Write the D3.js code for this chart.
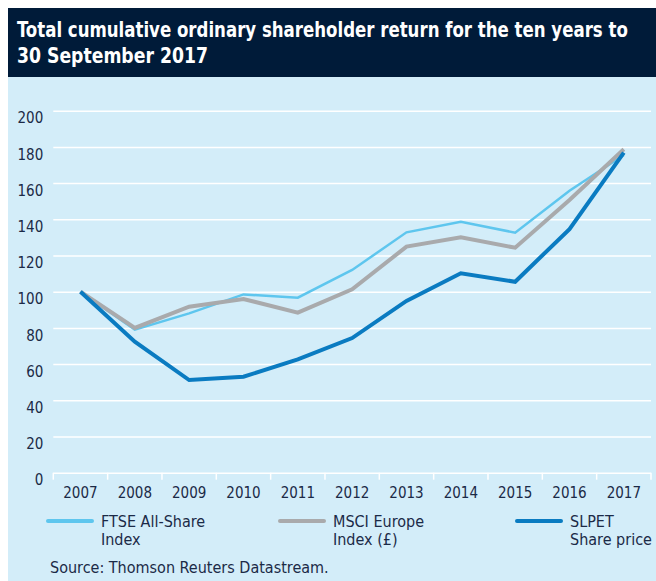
<!DOCTYPE html>
<html>
<head>
<meta charset="utf-8">
<script src="https://cdn.jsdelivr.net/npm/d3@7"></script>
<style>
  body { margin: 0; background: #fff; }
  text { font-family: 'Liberation Sans Narrow', 'DejaVu Sans Condensed', 'Roboto', sans-serif; }
</style>
</head>
<body>
<div id="chart"></div>
<script>
const years = ['2007', '2008', '2009', '2010', '2011', '2012', '2013', '2014', '2015', '2016', '2017']
const ftse = [100, 79, 88, 98.5, 96.7, 112, 132.8, 138.7, 132.6, 155.8, 175.5]
const msci = [100, 80, 91.7, 96, 88.4, 101.3, 124.9, 130, 124.3, 150.7, 178.7]
const slpet = [100, 72.4, 51.2, 53, 62.6, 74.4, 94.9, 110.2, 105.5, 134.6, 176.8]
const yTicks = [0, 20, 40, 60, 80, 100, 120, 140, 160, 180, 200]
const seriesNames = [['FTSE All-Share', 'Index'], ['MSCI Europe', 'Index (£)'], ['SLPET', 'Share price']]
const titleLines = ['Total cumulative ordinary shareholder return for the ten years to', '30 September 2017']
const source = 'Source: Thomson Reuters Datastream.'

const W = 656
const H = 581
const navy = '#1b2a47'
const colors = ['#5ec6ee', '#a9aaac', '#0a7bc1']
const widths = [2.5, 4, 4]

const svg = d3
  .select('#chart')
  .append('svg')
  .attr('width', W)
  .attr('height', H)

// header + background
svg.append('rect')
  .attr('x', 8).attr('y', 8)
  .attr('width', W - 8).attr('height', 69)
  .attr('fill', '#001b39')
svg.append('rect')
  .attr('x', 8).attr('y', 77)
  .attr('width', W - 8).attr('height', H - 77)
  .attr('fill', '#d3edf9')

// title, squeezed horizontally to the width of the condensed original
const titleWidths = [611, 191]
svg.selectAll('.title')
  .data(titleLines)
  .join('text')
  .attr('class', 'title')
  .attr('fill', '#fff')
  .attr('font-size', 22)
  .attr('font-weight', 'bold')
  .text(d => d)
  .each(function(d, i) {
    const len = this.getComputedTextLength()
    const k = Math.min(1, titleWidths[i] / len)
    d3.select(this).attr('transform', 'translate(17,' + (37 + i * 26) + ') scale(' + k + ',1)')
  })

/// Scales////////////////////////////////
const xScale = d3.scaleBand().domain(years).range([53.3, 651]).padding(0)
const yScale = d3.scaleLinear().domain([0, 200]).range([472.7, 110.7])
const xc = d => xScale(d) + xScale.bandwidth() / 2

// grid
svg.append('g')
  .attr('class', 'axis y-axis')
  .attr('transform', 'translate(53.3,0)')
  .call(d3.axisLeft(yScale).tickValues(yTicks).tickSize(-(651 - 53.3)).tickPadding(10))
  .call(g => g.select('.domain').remove())
  .call(g => g.selectAll('line').attr('stroke', '#fff').attr('stroke-width', 1.5))
  .call(g => g.selectAll('text')
    .attr('fill', navy)
    .attr('font-size', 15)
    .attr('dy', '0.75em')
    .attr('y', 1)
    .attr('font-family', null))

// x ticks at band edges
const edges = years.map(d => xScale(d)).concat([xScale.range()[1]])
svg.append('g')
  .selectAll('line')
  .data(edges)
  .join('line')
  .attr('x1', d => d).attr('x2', d => d)
  .attr('y1', yScale(0)).attr('y2', yScale(0) + 7)
  .attr('stroke', '#fff')
  .attr('stroke-width', 1.5)

svg.append('g')
  .selectAll('text')
  .data(years)
  .join('text')
  .attr('x', d => xc(d))
  .attr('y', 498)
  .attr('text-anchor', 'middle')
  .attr('fill', navy)
  .attr('font-size', 15)
  .text(d => d)

// lines
const line = d3.line().x((d, i) => xc(years[i])).y(d => yScale(d))
;[ftse, msci, slpet].forEach((s, i) => {
  svg.append('path')
    .datum(s)
    .attr('d', line)
    .attr('fill', 'none')
    .attr('stroke', colors[i])
    .attr('stroke-width', widths[i])
})

// legend
const legX = [48, 280, 517]
seriesNames.forEach((n, i) => {
  svg.append('line')
    .attr('x1', legX[i]).attr('x2', legX[i] + 44)
    .attr('y1', 521).attr('y2', 521)
    .attr('stroke', colors[i])
    .attr('stroke-width', 4)
    .attr('stroke-linecap', 'round')
  const t = svg.append('text')
    .attr('x', legX[i] + 53)
    .attr('y', 527)
    .attr('fill', navy)
    .attr('font-size', 16)
  t.selectAll('tspan')
    .data(n)
    .join('tspan')
    .attr('x', legX[i] + 53)
    .attr('dy', (d, j) => j === 0 ? 0 : 17.8)
    .text(d => d)
})

// ----------------------Source ------------------------
svg.append('text')
  .attr('x', 50)
  .attr('y', 573)
  .attr('fill', navy)
  .attr('font-size', 16)
  .text(source)
</script>
</body>
</html>
